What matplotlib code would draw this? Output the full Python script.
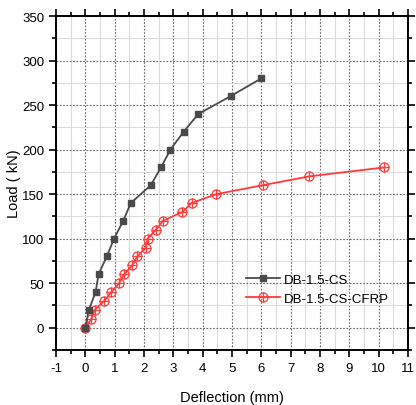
import matplotlib.pyplot as plt
from matplotlib.ticker import MultipleLocator

plt.rcParams['font.family'] = ['Liberation Sans', 'DejaVu Sans']
plt.rcParams['axes.unicode_minus'] = False

# DB-1.5-CS
cs_x = [0, 0.12, 0.35, 0.45, 0.73, 0.98, 1.29, 1.55, 2.23, 2.58, 2.9, 3.35, 3.85, 4.95, 6.0]
cs_y = [0, 20, 40, 60, 80, 100, 120, 140, 160, 180, 200, 220, 240, 260, 280]
# DB-1.5-CS-CFRP
cf_x = [0, 0.21, 0.32, 0.64, 0.89, 1.15, 1.32, 1.6, 1.77, 2.06, 2.12, 2.41, 2.64,
        3.31, 3.62, 4.47, 6.04, 7.64, 10.19]
cf_y = [0, 10, 20, 30, 40, 50, 60, 70, 80, 90, 100, 110, 120, 130, 140, 150, 160, 170, 180]

black = '#4a4a4a'
red = '#ff3b3b'

fig = plt.figure(figsize=(4.16, 4.06), dpi=100)
ax = fig.add_axes([0.1346, 0.1355, 0.8462, 0.8225])

l1, = ax.plot(cs_x, cs_y, color=black, lw=1.3, marker='s', ms=4,
              mfc=black, mec=black, zorder=4)
l2, = ax.plot(cf_x, cf_y, color=red, lw=1.3, marker='o', ms=6.5,
              mfc='none', mec=red, mew=0.9, zorder=3)
p2, = ax.plot(cf_x, cf_y, ls='none', marker='+', ms=6.5, mec=red, mew=0.9, zorder=3)

ax.set_xlim(-1, 11)
ax.set_ylim(-25, 350)
ax.xaxis.set_major_locator(MultipleLocator(1))
ax.xaxis.set_minor_locator(MultipleLocator(0.5))
ax.yaxis.set_major_locator(MultipleLocator(50))
ax.yaxis.set_minor_locator(MultipleLocator(25))

ax.grid(which='major', color='#666666', ls=(0, (1.5, 1.5)), lw=0.8)
ax.grid(which='minor', color='#dcdcdc', ls='-', lw=0.8)
ax.set_axisbelow(True)

for s in ax.spines.values():
    s.set_linewidth(1.4)
    s.set_color('black')
ax.tick_params(which='both', direction='out', top=True, right=True,
               labeltop=False, labelright=False, width=1.2, labelsize=9.5)
ax.tick_params(which='major', length=5)
ax.tick_params(which='minor', length=3)

ax.set_xlabel('Deflection (mm)', fontsize=10.5)
ax.set_ylabel('Load ( kN)', fontsize=10.5)
ax.xaxis.set_label_coords(0.5, -0.12)
ax.yaxis.set_label_coords(-0.098, 0.5)

ax.legend([l1, (l2, p2)], ['DB-1.5-CS', 'DB-1.5-CS-CFRP'], loc='lower right',
          bbox_to_anchor=(0.98, 0.1), frameon=False, fontsize=9.5,
          handlelength=2.6, handletextpad=0.3, labelspacing=0.5)

fig.savefig('out.png', dpi=100)
